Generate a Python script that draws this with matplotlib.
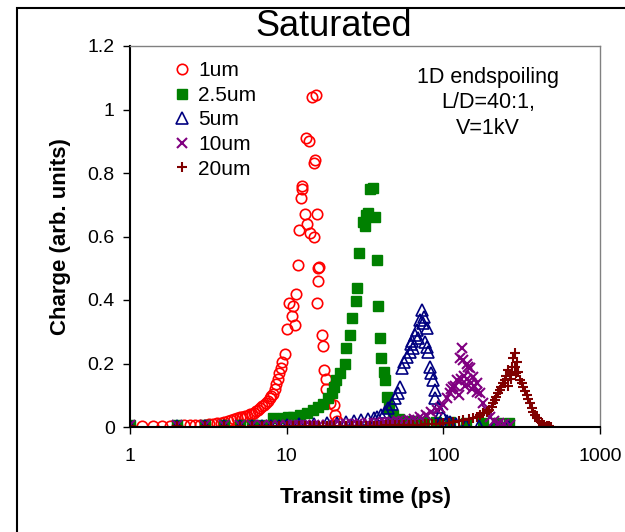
import matplotlib
matplotlib.use("Agg")
import matplotlib.pyplot as plt
from matplotlib.patches import Rectangle

plt.rcParams['font.family'] = ['Liberation Sans', 'DejaVu Sans']

# 1um (red open circles)
x_1um = [1.0, 1.2, 1.4, 1.6, 1.8, 2.0, 2.2, 2.4, 2.6, 2.8, 3.0, 3.2, 3.4, 3.6, 3.8, 4.0,
         4.2, 4.4, 4.6, 4.8, 5.0, 5.2, 5.4, 5.6, 5.8, 6.0, 6.2, 6.4, 6.6, 6.8, 7.0, 7.2,
         7.4, 7.6, 7.8, 8.0, 8.2, 8.4, 8.6, 8.8, 9.0, 9.2, 9.4, 9.7,
         10.1, 10.4, 10.8, 11.0, 11.3, 11.5, 11.75, 12.0, 12.3, 12.45, 12.5, 13.1, 13.3,
         13.5, 13.9, 14.1, 14.5, 14.95, 15.0, 15.2, 15.3, 15.55, 15.6, 15.8, 15.95,
         16.0, 16.9, 17.0, 17.4, 17.8, 17.9, 18.9, 20.0, 20.4, 21.0]
y_1um = [0.004, 0.004, 0.004, 0.004, 0.004, 0.004, 0.005, 0.005, 0.005, 0.006, 0.007, 0.008,
         0.010, 0.012, 0.014, 0.016, 0.018, 0.021, 0.024, 0.027, 0.030, 0.032, 0.034, 0.036,
         0.040, 0.042, 0.045, 0.050, 0.055, 0.060, 0.065, 0.070, 0.075, 0.082, 0.090, 0.097,
         0.105, 0.120, 0.135, 0.150, 0.170, 0.185, 0.205, 0.230,
         0.310, 0.390, 0.350, 0.380, 0.320, 0.420, 0.510, 0.620, 0.720, 0.750, 0.760, 0.670,
         0.910, 0.640, 0.900, 0.610, 1.040, 0.830, 0.600, 0.840, 1.045, 0.670, 0.390, 0.460,
         0.500, 0.505, 0.290, 0.255, 0.180, 0.150, 0.120, 0.075, 0.070, 0.038, 0.020]

# 2.5um (green filled squares)
x_2p5um = [1, 2, 3, 4, 5, 6, 7, 8.2, 9.5, 10.2, 11.0, 12.2, 13.4, 14.8, 15.9, 17.1, 18.4,
           19.4, 20.0, 20.8, 21.9, 23.5, 24.0, 25.5, 26.2, 27.6, 28.2, 29.1, 30.8, 31.6,
           31.9, 33.2, 34.0, 35.7, 36.6, 37.5, 38.3, 39.4, 40.3, 41.7, 42.4, 43.4, 45.0,
           47.8, 52, 58, 65, 75, 90, 110, 140, 180, 220, 262]
y_2p5um = [0.005, 0.005, 0.005, 0.005, 0.005, 0.005, 0.006, 0.027, 0.029, 0.030, 0.032,
           0.038, 0.043, 0.054, 0.062, 0.074, 0.090, 0.106, 0.127, 0.148, 0.169, 0.200,
           0.248, 0.290, 0.342, 0.398, 0.437, 0.547, 0.647, 0.633, 0.668, 0.673, 0.749,
           0.752, 0.662, 0.526, 0.381, 0.279, 0.216, 0.174, 0.148, 0.096, 0.060, 0.038,
           0.025, 0.020, 0.018, 0.016, 0.015, 0.015, 0.014, 0.014, 0.013, 0.013]

# 5um (navy open triangles)
x_5um = [1, 2, 3, 4, 5, 6, 7, 8, 9, 10, 12, 15, 18, 21, 24, 27, 30, 33, 36, 38,
         40.3, 42.4, 44.5, 46.8, 49.2, 51.5, 52.8, 54.4, 55.7, 58.4, 61.2, 62.5, 63.5,
         64.3, 65.9, 67.5, 69.0, 70.9, 72.7, 74.5, 75.5, 76.4, 78.2, 79.0, 80.2, 82.0,
         84.0, 86.0, 88.0, 89.0, 92.7, 97.2, 100, 105, 110, 120, 140, 170, 210, 260]
y_5um = [0.004, 0.004, 0.004, 0.004, 0.004, 0.004, 0.004, 0.004, 0.004, 0.005, 0.008,
         0.010, 0.012, 0.014, 0.016, 0.018, 0.021, 0.025, 0.029, 0.033,
         0.038, 0.048, 0.059, 0.074, 0.090, 0.106, 0.127, 0.185, 0.206, 0.221, 0.237,
         0.260, 0.270, 0.248, 0.290, 0.306, 0.280, 0.337, 0.369, 0.327, 0.345, 0.269,
         0.311, 0.253, 0.237, 0.190, 0.169, 0.148, 0.117, 0.090, 0.064, 0.043, 0.030,
         0.020, 0.015, 0.010, 0.006, 0.004, 0.003, 0.002]

# 10um (purple crosses)
x_10um = [1, 2, 3, 4, 5, 6, 7, 8, 9, 10, 11, 12, 13, 14, 15, 16, 18, 20, 22, 24, 26,
          28, 30, 33, 36, 39, 42, 45, 48, 51, 55, 60, 65, 71, 78, 84, 90.5, 95, 100,
          105, 110.2, 112, 115.7, 118, 121.6, 125, 127.6, 130, 131, 134, 136, 138,
          140.7, 142, 144, 147.8, 150, 152, 155, 158, 163, 165, 171, 180, 189, 198,
          210, 225, 245, 265]
y_10um = [0.005, 0.005, 0.005, 0.005, 0.005, 0.005, 0.005, 0.005, 0.005, 0.005, 0.005,
          0.005, 0.005, 0.005, 0.005, 0.006, 0.006, 0.007, 0.008, 0.008, 0.009, 0.010,
          0.011, 0.012, 0.013, 0.014, 0.015, 0.016, 0.017, 0.018, 0.020, 0.022, 0.025,
          0.030, 0.038, 0.048, 0.054, 0.059, 0.069, 0.090, 0.106, 0.120, 0.127, 0.130,
          0.148, 0.100, 0.216, 0.150, 0.248, 0.211, 0.160, 0.130, 0.200, 0.150, 0.190,
          0.185, 0.140, 0.120, 0.158, 0.130, 0.138, 0.110, 0.106, 0.075, 0.054, 0.032,
          0.020, 0.012, 0.008, 0.005]

# 20um (dark red plus)
x_20um = [1, 2, 3, 4, 5, 6, 7, 8, 9, 10, 11, 12, 13, 14, 15, 16, 17, 18, 19, 20, 22,
          24, 26, 28, 30, 32, 34, 36, 38, 40, 43, 46, 49, 52, 56, 60, 64, 68, 72, 76,
          80, 85, 90, 95, 100, 108, 116, 125, 134, 145, 155, 163, 171, 180, 189, 196,
          203, 208, 213, 218, 224, 230, 235, 241, 247, 253, 259, 260, 266, 270, 273,
          279, 285, 286, 290, 294, 300.6, 308, 316, 324, 332, 340, 348, 357, 366, 375,
          384, 394, 409, 424, 440, 456, 473, 490]
y_20um = [0.004, 0.004, 0.004, 0.004, 0.004, 0.004, 0.004, 0.004, 0.004, 0.004, 0.004,
          0.004, 0.004, 0.004, 0.004, 0.004, 0.004, 0.004, 0.004, 0.004, 0.004, 0.004,
          0.004, 0.004, 0.004, 0.004, 0.004, 0.004, 0.004, 0.004, 0.005, 0.005, 0.005,
          0.005, 0.005, 0.006, 0.006, 0.007, 0.007, 0.008, 0.008, 0.009, 0.010, 0.011,
          0.012, 0.014, 0.017, 0.020, 0.022, 0.025, 0.027, 0.032, 0.038, 0.043, 0.048,
          0.055, 0.064, 0.075, 0.085, 0.095, 0.106, 0.115, 0.127, 0.138, 0.148, 0.160,
          0.180, 0.130, 0.164, 0.150, 0.190, 0.216, 0.190, 0.232, 0.170, 0.206, 0.174,
          0.148, 0.138, 0.127, 0.112, 0.101, 0.088, 0.075, 0.060, 0.048, 0.037, 0.027,
          0.018, 0.012, 0.007, 0.004, 0.002, 0.001]

y_ticks = [0, 0.2, 0.4, 0.6, 0.8, 1.0, 1.2]
y_tick_labels = ['0', '0.2', '0.4', '0.6', '0.8', '1', '1.2']
x_ticks = [1, 10, 100, 1000]
x_tick_labels = ['1', '10', '100', '1000']

fig = plt.figure(figsize=(6.25, 5.32), dpi=100)
ax = fig.add_axes([130 / 625, 1 - 427 / 532, 470 / 625, 381 / 532])

ax.plot(x_1um, y_1um, 'o', ls='none', mfc='none', mec='#FF0000', mew=1.2, ms=7.5, label='1um')
ax.plot(x_2p5um, y_2p5um, 's', ls='none', color='#008000', ms=6.5, label='2.5um')
ax.plot(x_5um, y_5um, '^', ls='none', mfc='none', mec='#000080', mew=1.2, ms=8, label='5um')
ax.plot(x_10um, y_10um, 'x', ls='none', color='#800080', mew=1.5, ms=6.5, label='10um')
ax.plot(x_20um, y_20um, '+', ls='none', color='#800000', mew=1.5, ms=7, label='20um')

ax.set_xscale('log')
ax.set_xlim(1, 1000)
ax.set_ylim(0, 1.2)
ax.set_xticks(x_ticks)
ax.set_xticklabels(x_tick_labels)
ax.minorticks_off()
ax.set_yticks(y_ticks)
ax.set_yticklabels(y_tick_labels)
ax.tick_params(axis='both', direction='out', length=5, width=1, labelsize=14, color='black')
ax.tick_params(axis='x', pad=10)
ax.tick_params(axis='y', pad=6)

for s in ['top', 'right']:
    ax.spines[s].set_color('#808080')
    ax.spines[s].set_linewidth(1)
for s in ['left', 'bottom']:
    ax.spines[s].set_color('black')
    ax.spines[s].set_linewidth(1.5)

fig.text(334 / 625, 1 - 27 / 532, 'Saturated', fontsize=26, ha='center', va='center')
ax.set_xlabel('Transit time (ps)', fontsize=16, fontweight='bold', labelpad=16)
ax.set_ylabel('Charge (arb. units)', fontsize=16, fontweight='bold', labelpad=12)

ax.legend(loc='upper left', bbox_to_anchor=(0.07, 0.982), frameon=False, fontsize=15,
          handletextpad=0.3, labelspacing=0.27, handlelength=1.0, borderaxespad=0)

ax.text(0.762, 0.945, '1D endspoiling\nL/D=40:1,\nV=1kV', transform=ax.transAxes,
        ha='center', va='top', fontsize=15.5, linespacing=1.28)

# outer frame of the original chart object
fig.patches.append(Rectangle((17 / 625, -0.5), 2, 1.5 - 8 / 532, transform=fig.transFigure,
                             fill=False, edgecolor='black', linewidth=1.5))

fig.savefig('out.png', dpi=100)
